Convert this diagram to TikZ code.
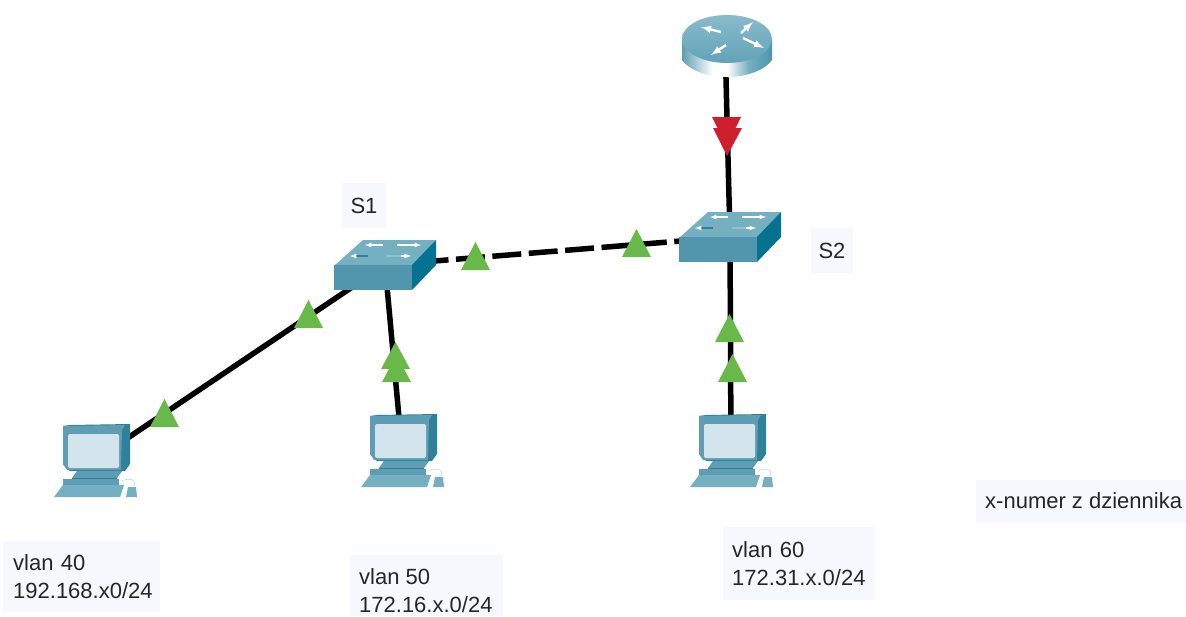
\documentclass[tikz,border=0pt]{standalone}
\usepackage{fontspec}
\setmainfont{Liberation Sans}
\usetikzlibrary{positioning,calc}
\definecolor{lblbg}{HTML}{F7F8FE}
\definecolor{swfront}{HTML}{5296AD}
\definecolor{swtop}{HTML}{75AFC2}
\definecolor{swside}{HTML}{05728F}
\definecolor{pcmid}{HTML}{5E9DB3}
\definecolor{pcdark}{HTML}{2F8199}
\definecolor{pcscreen}{HTML}{D3E4EC}
\definecolor{okgreen}{HTML}{69B94A}
\definecolor{alarmred}{HTML}{CE1F2F}
\pgfdeclarehorizontalshading{routerside}{100bp}{
  color(0bp)=(pcdark!85);
  color(25bp)=(pcmid);
  color(42bp)=(white);
  color(50bp)=(white);
  color(62bp)=(swtop);
  color(85bp)=(pcdark);
  color(100bp)=(swside)}
\pgfdeclareverticalshading{routertop}{100bp}{
  color(0bp)=(swfront);
  color(50bp)=(swtop);
  color(100bp)=(swtop!70!white)}
\tikzset{
  x=1pt,y=-1pt,
  link/.style={line width=5.5pt,black},
  trunk/.style={line width=5.5pt,black,dash pattern=on 29pt off 7.5pt,dash phase=2.5pt},
  hub/.style={inner sep=0pt,minimum size=1pt},
  lbl/.style={fill=lblbg,inner sep=0pt,font=\fontsize{22}{28}\selectfont,align=left,anchor=north west,text=black!85},
  uptri/.style={fill=okgreen,draw=none},
  downtri/.style={fill=alarmred,draw=none},
  switchicon/.pic={
    \fill[swtop] (-51,1)--(-22,-25)--(51,-25)--(27,1)--cycle;
    \fill[swfront] (-51,0)--(27,0)--(27,25)--(-51,25)--cycle;
    \fill[swside] (27,0)--(51,-25)--(51,0)--(27,25)--cycle;
    \draw[white,line width=1.2pt,-latex] (-2,-20)--(-20,-20);
    \draw[white,line width=1.2pt,-latex] (12,-20)--(36,-20);
    \draw[pcdark,line width=1.2pt] (-17,-9)--(-30,-9);
    \draw[white,line width=1.2pt,-latex] (-30,-9)--(-35,-9);
    \draw[swfront!60!white,line width=1.2pt] (2,-9)--(16,-9);
    \draw[white,line width=1.2pt,-latex] (16,-9)--(26,-9);
  },
  routericon/.pic={
    \begin{scope}[shift={(2,0)}]
    \shade[shading=routerside] (-45,0)--(-45,21) .. controls (-38,31) and (-20,38) .. (0,38) .. controls (20,38) and (38,31) .. (45,21) --(45,0)--cycle;
    \shade[shading=routertop] (0,0) ellipse[x radius=45,y radius=24];
    \draw[white,line width=2.4pt,-latex] (-6,-7)--(-26,-12);
    \draw[white,line width=2.4pt,-latex] (14,-6)--(26,-17);
    \draw[white,line width=2.4pt,-latex] (-1,6)--(-16,16);
    \draw[white,line width=2.4pt,-latex] (16,-1)--(37,9);
    \end{scope}
  },
  pcicon/.pic={
    \fill[pcdark] (-32,-34)--(-25,-35)--(35,-36)--(35,4)--(30,11)--(-25,11)--(-32,4)--cycle;
    \fill[pcmid] (-32,-34)--(30,-35)--(27,-30)--(26,10)--(-28,10)--(-32,4)--cycle;
    \fill[pcscreen,rounded corners=2pt] (-27,-26) rectangle (24,8);
    \fill[pcmid] (-18,11)--(27,11)--(22,18)--(-23,18)--cycle;
    \fill[pcdark] (-23,18) rectangle (22,22);
    \fill[pcmid] (-32,19)--(24,19)--(24,25)--(-32,25)--cycle;
    \fill[swtop] (-32,25)--(29,25)--(25,37)--(-41,37)--cycle;
    \fill[swtop] (33,27)--(41,27)--(42,37)--(31,37)--cycle;
    \draw[pcscreen,line width=1pt] (27,21) .. controls (34,17) and (44,20) .. (38,27);
  }
}
\begin{document}
\begin{tikzpicture}
\useasboundingbox (0,0) rectangle (1186,616);
\fill[white] (0,0) rectangle (1186,616);
% anchors of the devices
\node[hub] (router) at (725,39) {};
\node[hub] (s1) at (385,265) {};
\node[hub] (s2) at (730,237) {};
\node[hub] (pc1) at (95,460) {};
\node[hub] (pc2) at (402,450) {};
\node[hub] (pc3) at (731,450) {};
% connectors
\draw[link] (router) -- (s2);
\draw[link] (s2) -- (pc3);
\draw[link] (s1) -- (pc1);
\draw[link] (s1) -- (pc2);
\draw[trunk] (s1) -- (s2);
% devices
\pic at (router) {routericon};
\pic at (s1) {switchicon};
\pic at (s2) {switchicon};
\pic at (pc1) {pcicon};
\pic at (pc2) {pcicon};
\pic at (pc3) {pcicon};
% link lights
\fill[downtri] (712,117)--(741,117)--(726.5,146)--cycle;
\fill[downtri] (713,128)--(742,128)--(727,156)--cycle;
\fill[uptri] (294,328)--(323,328)--(308.5,300)--cycle;
\fill[uptri] (150,427)--(179,427)--(164.5,399)--cycle;
\fill[uptri] (381,369)--(410,369)--(395.5,342)--cycle;
\fill[uptri] (382,382)--(411,382)--(396.5,355)--cycle;
\fill[uptri] (461,270)--(490,270)--(475.5,242)--cycle;
\fill[uptri] (622,257)--(651,257)--(636.5,229)--cycle;
\fill[uptri] (715,342)--(744,342)--(729.5,314)--cycle;
\fill[uptri] (718,382)--(747,382)--(732.5,354)--cycle;
% labels
\node[lbl,minimum width=44pt,minimum height=45pt,align=center,anchor=center] (s1lbl) at (364,205.5) {S1};
\node[lbl,minimum width=42pt,minimum height=45pt,align=center,anchor=center] (s2lbl) at (832,250.5) {S2};
\node[lbl,minimum width=157pt,minimum height=71pt,inner xsep=10pt,anchor=west,text width=137pt] (v40) at (3,576.5) {vlan 40\\192.168.x0/24};
\fill[lblbg] (350,555) rectangle (503,616);
\node[lbl,fill=none,anchor=north west] (v50) at (359,568) {vlan 50\\172.16.x.0/24};
\node[lbl,minimum width=152pt,minimum height=73pt,inner xsep=9pt,anchor=west,text width=134pt] (v60) at (723,563.5) {vlan 60\\172.31.x.0/24};
\fill[lblbg] (976,480) rectangle (1186,522);
\node[lbl,fill=none,anchor=west] (xnote) at (985,501) {x-numer z dziennika};
\end{tikzpicture}
\end{document}
